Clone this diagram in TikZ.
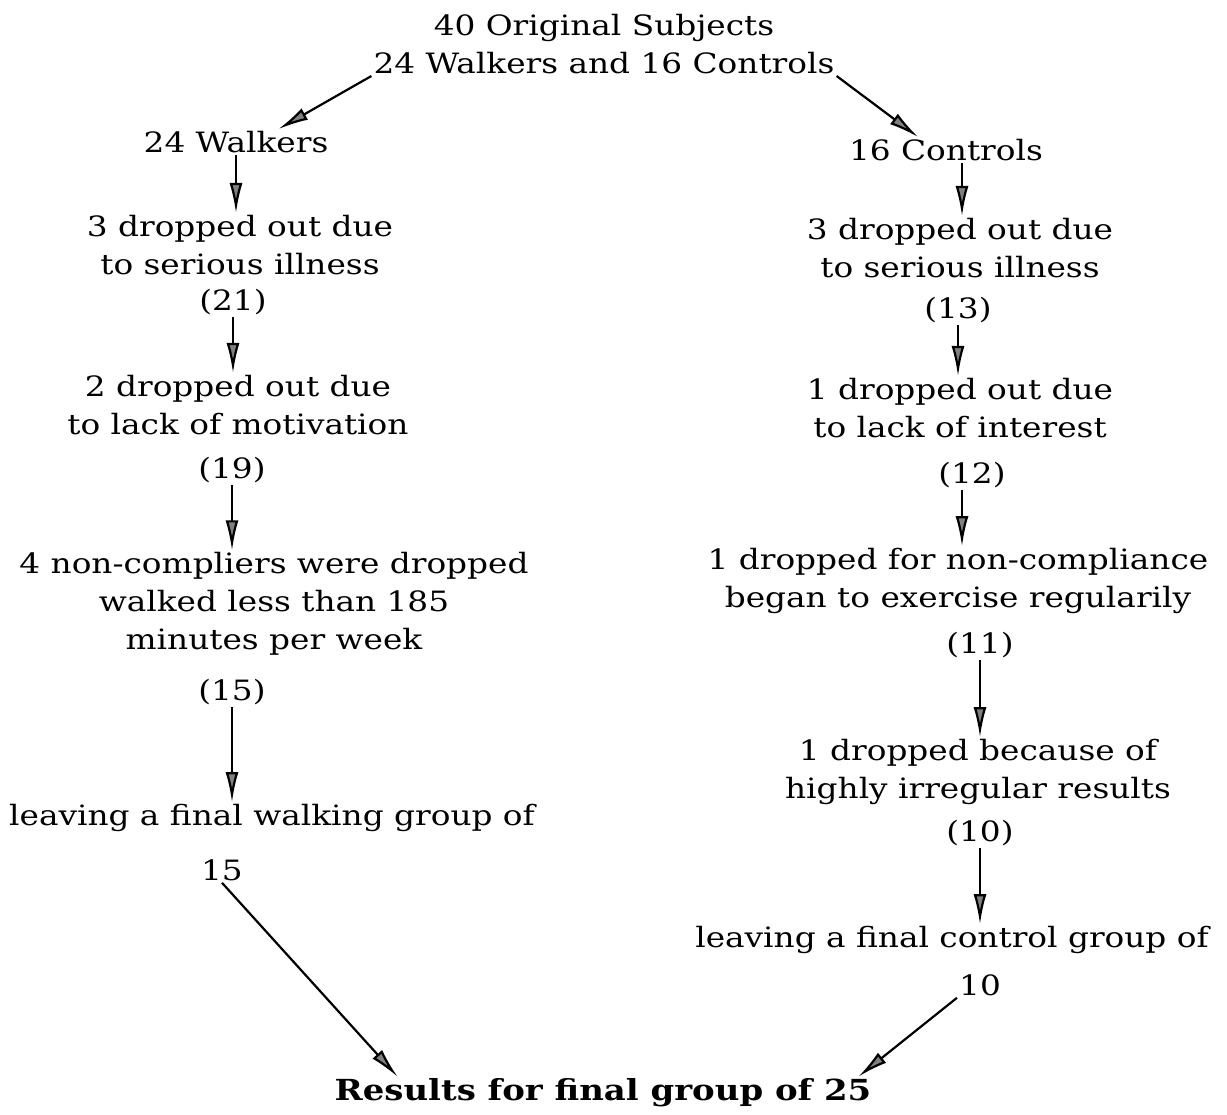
\documentclass[tikz,border=0pt]{standalone}
\usepackage{fontspec}
\setmainfont{DejaVu Serif}[FakeStretch=1.17]
\usetikzlibrary{arrows.meta}

\begin{document}
\begin{tikzpicture}[x=1pt, y=-1pt,
txt/.style={align=center, font=\fontsize{28}{38}\selectfont, inner sep=2pt},
res/.style={align=center, font=\fontsize{29}{38}\selectfont\bfseries, inner sep=2pt},
arr/.style={-{Latex[length=30pt, width=13pt, fill=gray]}, line width=2.2pt},
]
\useasboundingbox (0,0) rectangle (1227,1115);

\node (orig) [txt] at (604,44) {40 Original Subjects\\24 Walkers and 16 Controls};
\node (walk) [txt] at (236,142) {24 Walkers};
\node (ctrl) [txt] at (946,150) {16 Controls};

% walkers side
\node (wa) [txt] at (240,245) {3 dropped out due\\to serious illness};
\node (wa-n) [txt] at (233,302) {(21)};
\node (wb) [txt] at (238,405) {2 dropped out due\\to lack of motivation};
\node (wb-n) [txt] at (232,470) {(19)};
\node (wc) [txt] at (274,604) {4 non-compliers were dropped\\walked less than 185\\minutes per week};
\node (wc-n) [txt] at (232,692) {(15)};
\node (wd) [txt] at (272,818) {leaving a final walking group of};
\node (wd-n) [txt] at (222,870) {15};

% controls side
\node (ca) [txt] at (960,248) {3 dropped out due\\to serious illness};
\node (ca-n) [txt] at (958,310) {(13)};
\node (cb) [txt] at (960,408) {1 dropped out due\\to lack of interest};
\node (cb-n) [txt] at (972,475) {(12)};
\node (cc) [txt] at (958,581) {1 dropped for non-compliance\\began to exercise regularily};
\node (cc-n) [txt] at (980,645) {(11)};
\node (cd) [txt] at (978,772) {1 dropped because of\\highly irregular results};
\node (cd-n) [txt] at (980,833) {(10)};
\node (ce) [txt] at (952,940) {leaving a final control group of};
\node (ce-n) [txt] at (980,985) {10};

\node (final) [res] at (603,1093) {Results for final group of 25};

\draw [arr] (orig.south west) -- (walk.17);
\draw [arr] (orig.south east) -- (ctrl.155);

\draw [arr] (walk.south) -- (walk.south |- wa.north);
\draw [arr] (wa-n.south) -- (wa-n.south |- wb.north);
\draw [arr] (wb-n.south) -- (wb-n.south |- wc.north);
\draw [arr] (wc-n.south) -- (wc-n.south |- wd.north);

\draw [arr] (ctrl.south) ++(16,0) coordinate (c0) -- (c0 |- ca.north);
\draw [arr] (ca-n.south) -- (ca-n.south |- cb.north);
\draw [arr] (cb-n.south) ++(-10,0) coordinate (c1) -- (c1 |- cc.north);
\draw [arr] (cc-n.south) -- (cc-n.south |- cd.north);
\draw [arr] (cd-n.south) -- (cd-n.south |- ce.north);

\draw [arr] (wd-n.south) -- ([xshift=65pt]final.north west);
\draw [arr] (ce-n.south west) -- ([xshift=-15pt]final.north east);
\end{tikzpicture}
\end{document}
